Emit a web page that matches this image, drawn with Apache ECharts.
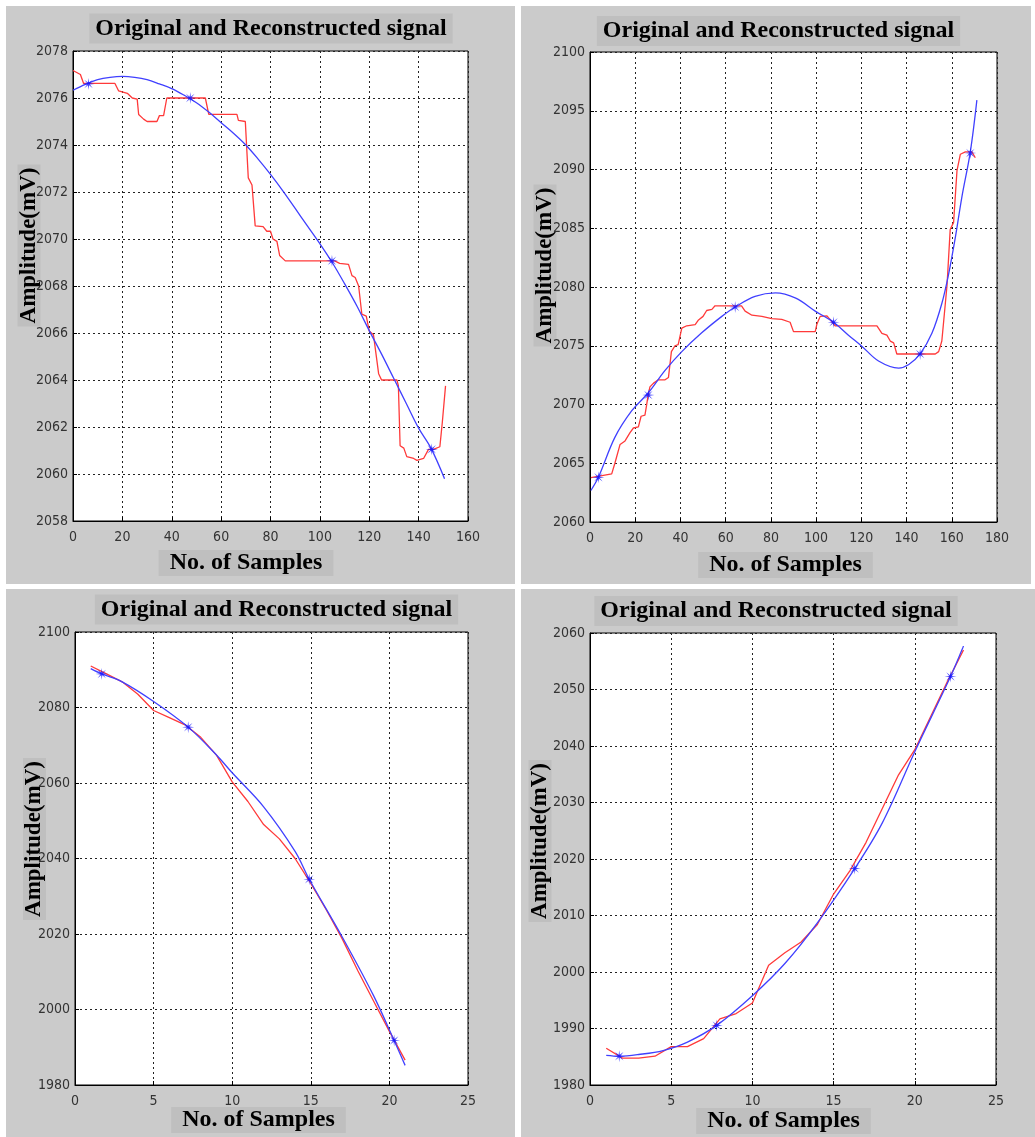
<!DOCTYPE html>
<html>
<head>
<meta charset="utf-8">
<script src="https://cdn.jsdelivr.net/npm/echarts@6/dist/echarts.min.js"></script>
<style>
    html, body {margin: 0; padding: 0; background: #fff;}
    #main {width: 1035px; height: 1137px;}
</style>
</head>
<body>
<div id="main"></div>
<script>
var titleText = 'Original and Reconstructed signal';
var xName = 'No. of Samples';
var yName = 'Amplitude(mV)';

// panel 1 (top left)
var p1Original = [[0,2077.17],[3,2077.0],[4.3,2076.62],[17,2076.62],[18.5,2076.3],[22,2076.2],[24,2076.0],[26,2075.95],
    [26.6,2075.3],[28.6,2075.1],[30,2075.0],[34,2075.0],[35,2075.25],[36.7,2075.25],[38,2076.0],[53.6,2076.0],
    [55,2075.3],[66.4,2075.3],[67,2075.05],[69.8,2075.0],[71,2072.6],[72.5,2072.3],[73.8,2070.56],[77,2070.53],
    [78.5,2070.33],[80,2070.33],[81,2070.0],[82.6,2069.9],[83.7,2069.3],[86,2069.07],[106,2069.07],[108,2068.96],
    [111.6,2068.92],[113,2068.44],[114.3,2068.36],[115.7,2068.0],[117,2066.8],[118.8,2066.72],[120,2066.08],
    [121.7,2065.93],[123.8,2064.27],[125,2064.0],[131.2,2064.0],[131.8,2063.76],[132.5,2061.2],[134,2061.1],
    [135.2,2060.74],[138,2060.66],[139.3,2060.58],[142,2060.66],[144,2061.05],[146,2061.05],[148.6,2061.16],
    [149.6,2062.2],[150.9,2063.75]];
var p1Reconstructed = [[0,2076.33],[5,2076.58],[10,2076.78],[15,2076.88],[20,2076.92],[25,2076.88],[30,2076.78],
    [35,2076.6],[40,2076.4],[45,2076.12],[50,2075.8],[55,2075.4],[60,2074.95],[65,2074.5],[70,2074.0],[75,2073.4],
    [80,2072.75],[85,2072.05],[90,2071.3],[95,2070.55],[100,2069.8],[105,2069.0],[110,2068.1],[115,2067.15],
    [120,2066.1],[125,2065.1],[130,2064.05],[135,2063.0],[140,2061.95],[145,2061.1],[150.5,2059.8]];
var p1Knots = [[6.3,2076.6],[47.5,2076.0],[104.9,2069.07],[145.3,2061.05]];

// panel 2 (top right)
var p2Original = [[0.4,2063.78],[9.6,2064.1],[11,2065.0],[13.3,2066.6],[15.5,2066.9],[17.7,2067.6],[19.2,2068.0],
    [21.4,2068.1],[22.6,2069.0],[24.3,2069.1],[25,2069.9],[25.5,2070.55],[26.5,2071.5],[28,2071.8],[30.2,2072.1],
    [33.2,2072.1],[34.7,2072.3],[36,2074.5],[37.6,2075.0],[39,2075.1],[40.6,2076.5],[42.8,2076.7],[46.5,2076.8],
    [48,2077.2],[50,2077.5],[51.6,2078.0],[53.9,2078.1],[55.3,2078.4],[67,2078.4],[68.6,2077.95],[71.6,2077.6],
    [76,2077.5],[80.4,2077.3],[84.8,2077.25],[88.5,2077.0],[90,2076.2],[99.6,2076.2],[100.3,2076.8],[101.8,2077.5],
    [104.8,2077.55],[108.4,2076.7],[126.9,2076.7],[129.1,2076.06],[131.3,2075.9],[132.8,2075.4],[134.3,2075.25],
    [135.7,2074.3],[152.7,2074.3],[154.2,2074.5],[155.6,2075.4],[157.9,2080.15],[159.3,2084.9],[160.8,2085.5],
    [162.3,2089.9],[163.8,2091.3],[166,2091.5],[168.9,2091.5],[170.4,2091.0]];
var p2Reconstructed = [[0.4,2062.68],[3.7,2063.8],[11,2067.2],[18.4,2069.45],[25.8,2071.0],[33.2,2072.9],
    [40.6,2074.5],[49.4,2076.1],[58.3,2077.5],[64.2,2078.3],[73,2079.2],[82,2079.5],[91,2079.05],[99.6,2077.95],
    [107.7,2077.0],[114.3,2075.9],[120.2,2074.96],[127.6,2073.7],[136.5,2073.1],[141,2073.4],[146,2074.3],
    [151.2,2076.06],[155.6,2078.6],[158.6,2081.1],[161.6,2084.25],[164.5,2087.7],[168.2,2091.5],[171.1,2095.9]];
var p2Knots = [[3.7,2063.8],[25.8,2070.8],[64.2,2078.3],[107.7,2077.0],[146,2074.3],[168.2,2091.4]];

// panel 3 (bottom left)
var p3Original = [[1,2091.0],[2,2088.9],[3,2086.8],[4,2083.5],[5,2079.2],[6,2077.3],[7,2075.4],[8,2072.1],[9,2067.4],
    [10,2060.3],[11,2055.1],[12,2049.0],[13,2045.2],[14,2040.0],[15,2033.4],[16,2026.3],[17,2018.7],[18,2010.2],
    [19,2002.2],[20,1994.2],[21,1986.6]];
var p3Reconstructed = [[1,2090.3],[1.7,2088.9],[3,2086.8],[5,2081.6],[7.2,2074.8],[9,2067.4],[10,2062.7],[12,2053.7],
    [14,2041.9],[14.9,2034.5],[17,2019.2],[19,2003.6],[20.3,1991.8],[21,1985.2]];
var p3Knots = [[1.7,2088.9],[7.2,2074.8],[14.9,2034.5],[20.3,1991.8]];

// panel 4 (bottom right)
var p4Original = [[1,1986.5],[2,1984.75],[3,1984.75],[4,1985.1],[5,1986.8],[6,1986.8],[7,1988.2],[8,1991.7],[9,1992.65],
    [10,1994.5],[11,2001.2],[12,2003.4],[13,2005.3],[14,2008.4],[15,2013.8],[16,2017.9],[17,2022.95],[18,2028.95],
    [19,2034.9],[20,2039.35],[21,2045.35],[22,2051.35],[23,2057.0]];
var p4Reconstructed = [[1,1985.25],[1.8,1985.1],[3,1985.4],[4.5,1986.1],[6,1987.6],[7.8,1990.55],[10,1995.8],
    [12,2001.5],[14,2008.7],[16.3,2018.3],[18,2026.4],[20,2039.0],[22.2,2052.3],[23,2057.7]];
var p4Knots = [[1.8,1985.1],[7.8,1990.55],[16.3,2018.3],[22.2,2052.3]];

var panels = [
    {box: [6, 6, 509, 578], grid: [73, 51, 395, 470], x: [0, 160, 20], y: [2058, 2078, 2],
        title: [271, 28.5], yl: [29, 245.5], xl: [246, 563], orig: p1Original, rec: p1Reconstructed, knots: p1Knots},
    {box: [521, 6, 510, 578], grid: [590, 52, 407, 470], x: [0, 180, 20], y: [2060, 2100, 5],
        title: [778.5, 31], yl: [545, 265.5], xl: [785.5, 565], orig: p2Original, rec: p2Reconstructed, knots: p2Knots},
    {box: [6, 589, 509, 548], grid: [75, 632, 393, 453], x: [0, 25, 5], y: [1980, 2100, 20],
        title: [276.5, 609.5], yl: [34.5, 839], xl: [258.5, 1120], orig: p3Original, rec: p3Reconstructed, knots: p3Knots},
    {box: [521, 589, 514, 548], grid: [590, 633, 406, 452], x: [0, 25, 5], y: [1980, 2060, 10],
        title: [776, 611], yl: [540, 841], xl: [783.5, 1121], orig: p4Original, rec: p4Reconstructed, knots: p4Knots}
];

var tickFont = "'Liberation Sans Narrow', 'DejaVu Sans Condensed', sans-serif";
var labelFont = "'Liberation Serif', 'DejaVu Serif', serif";
var starPath = 'path://M5,0L1.11,0.46L3.54,3.54L0.46,1.11L0,5L-0.46,1.11L-3.54,3.54L-1.11,0.46L-5,0L-1.11,-0.46L-3.54,-3.54L-0.46,-1.11L0,-5L0.46,-1.11L3.54,-3.54L1.11,-0.46Z';

var makeAxis = function (i, range, isX) {
    return {
        type: 'value',
        gridIndex: i,
        min: range[0],
        max: range[1],
        interval: range[2],
        axisLine: {show: true, onZero: false, lineStyle: {color: '#000', width: 1}},
        axisTick: {show: true, inside: true, length: 4, lineStyle: {color: '#000'}},
        axisLabel: {
            color: '#333', fontFamily: tickFont, fontSize: 14, margin: isX ? 9 : 5,
            formatter: function (v) { return String(v); }
        },
        splitLine: {show: true, lineStyle: {color: '#222', width: 1, type: [2, 3]}}
    };
};

var grids = [], xAxes = [], yAxes = [], series = [], graphics = [];
for (var i = 0; i < panels.length; i++) {
    var p = panels[i];
    grids.push({
        left: p.grid[0], top: p.grid[1], width: p.grid[2], height: p.grid[3],
        show: true, backgroundColor: '#fff', borderColor: '#000', borderWidth: 1
    });
    xAxes.push(makeAxis(i, p.x, true));
    yAxes.push(makeAxis(i, p.y, false));
    series.push({
        type: 'line', xAxisIndex: i, yAxisIndex: i, data: p.orig, showSymbol: false,
        lineStyle: {color: '#ff3a3a', width: 1.3}, z: 3
    });
    series.push({
        type: 'line', xAxisIndex: i, yAxisIndex: i, data: p.rec, showSymbol: false, smooth: 0.35,
        lineStyle: {color: '#4040ff', width: 1.3}, z: 4
    });
    series.push({
        type: 'scatter', xAxisIndex: i, yAxisIndex: i, data: p.knots, symbol: starPath, symbolSize: 12,
        itemStyle: {color: '#1010ff'}, z: 5
    });
    graphics.push({
        type: 'rect', z: -10,
        shape: {x: p.box[0], y: p.box[1], width: p.box[2], height: p.box[3]},
        style: {fill: '#cbcbcb'}
    });
    graphics.push({
        type: 'text', x: p.title[0], y: p.title[1], z: 10,
        style: {text: titleText, font: 'bold 24px ' + labelFont, fill: '#000', align: 'center', verticalAlign: 'middle',
            backgroundColor: '#bfbfbf', padding: [3, 6]}
    });
    graphics.push({
        type: 'text', x: p.xl[0], y: p.xl[1], z: 10,
        style: {text: xName, font: 'bold 24px ' + labelFont, fill: '#000', align: 'center', verticalAlign: 'middle',
            backgroundColor: '#bfbfbf', padding: [1, 11]}
    });
    // y name sits under the tick labels so they stay readable
    graphics.push({
        type: 'text', x: p.yl[0], y: p.yl[1], z: -5, rotation: Math.PI / 2,
        style: {text: yName, font: 'bold 23px ' + labelFont, fill: '#000', align: 'center', verticalAlign: 'middle',
            backgroundColor: '#bfbfbf', padding: [0, 3]}
    });
}

var myChart = echarts.init(document.getElementById('main'));
var option = {
    backgroundColor: '#fff',
    animation: false,
    grid: grids,
    xAxis: xAxes,
    yAxis: yAxes,
    series: series,
    graphic: graphics
};
myChart.setOption(option);
</script>
</body>
</html>
